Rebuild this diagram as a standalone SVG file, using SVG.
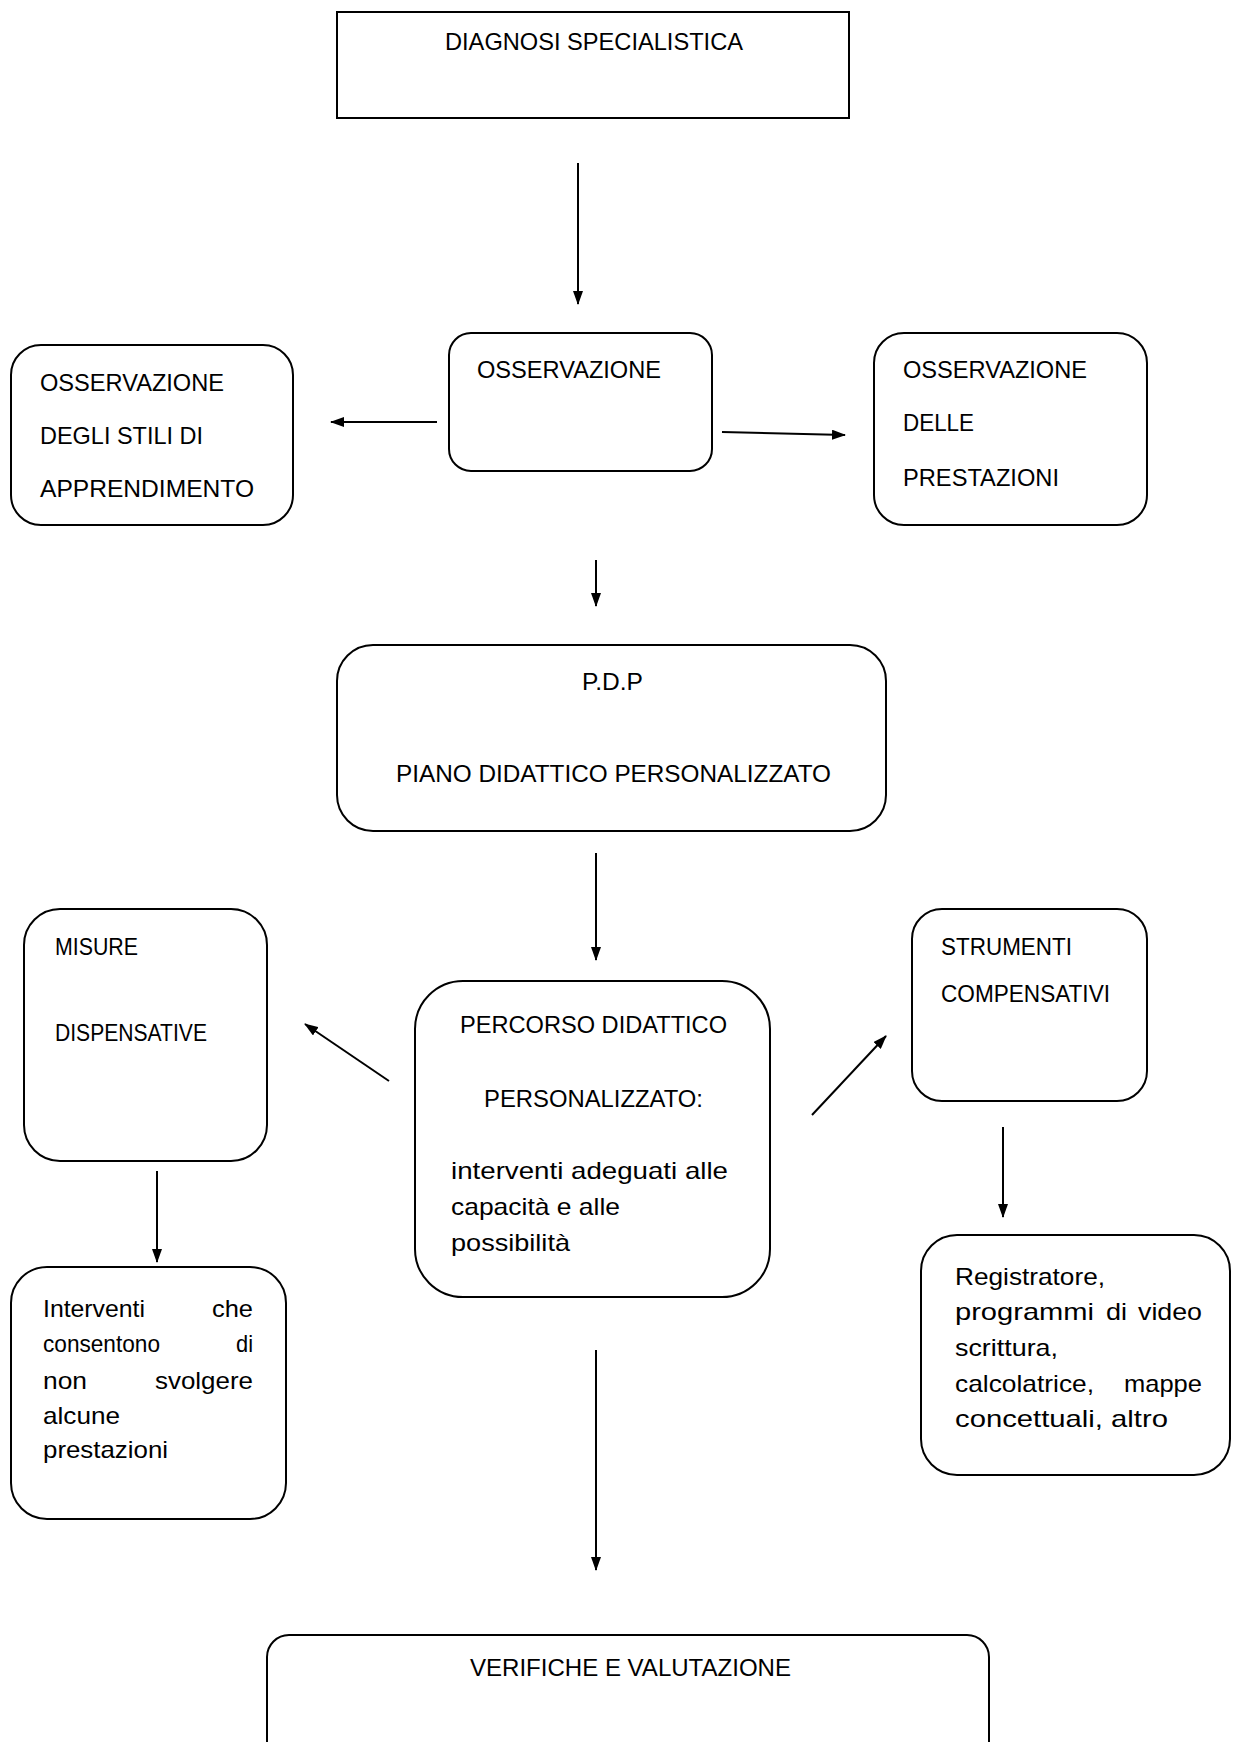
<svg xmlns="http://www.w3.org/2000/svg" width="1238" height="1742" viewBox="0 0 1238 1742">
<style>
.box{fill:#fff;stroke:#000;stroke-width:2}
.t{font-family:"Liberation Sans",Arial,sans-serif;font-size:24px;fill:#000}
.s{font-family:"Liberation Sans",Arial,sans-serif;font-size:23px;fill:#000}
.c{stroke:#000;stroke-width:2;fill:none}
</style>
<defs>
<marker id="ah" viewBox="0 0 14 10" refX="13" refY="5" markerWidth="14" markerHeight="10" markerUnits="userSpaceOnUse" orient="auto">
<path d="M0,0 L14,5 L0,10 Z" fill="#000"/>
</marker>
</defs>
<rect width="1238" height="1742" fill="#fff"/>

<g id="diagnosi">
<rect class="box" x="337" y="12" width="512" height="106"/>
<text class="t" x="445" y="50" textLength="298" lengthAdjust="spacingAndGlyphs">DIAGNOSI SPECIALISTICA</text>
</g>

<g id="osservazione">
<rect class="box" x="449" y="333" width="263" height="138" rx="22"/>
<text class="t" x="477" y="378" textLength="184" lengthAdjust="spacingAndGlyphs">OSSERVAZIONE</text>
</g>

<g id="stili">
<rect class="box" x="11" y="345" width="282" height="180" rx="30"/>
<text class="t" x="40" y="391" textLength="184" lengthAdjust="spacingAndGlyphs">OSSERVAZIONE</text>
<text class="t" x="40" y="444" textLength="163" lengthAdjust="spacingAndGlyphs">DEGLI STILI DI</text>
<text class="t" x="40" y="497" textLength="214" lengthAdjust="spacingAndGlyphs">APPRENDIMENTO</text>
</g>

<g id="prestazioni">
<rect class="box" x="874" y="333" width="273" height="192" rx="30"/>
<text class="t" x="903" y="378" textLength="184" lengthAdjust="spacingAndGlyphs">OSSERVAZIONE</text>
<text class="t" x="903" y="431" textLength="71" lengthAdjust="spacingAndGlyphs">DELLE</text>
<text class="t" x="903" y="486" textLength="156" lengthAdjust="spacingAndGlyphs">PRESTAZIONI</text>
</g>

<g id="pdp">
<rect class="box" x="337" y="645" width="549" height="186" rx="36"/>
<text class="t" x="582" y="690" textLength="61" lengthAdjust="spacingAndGlyphs">P.D.P</text>
<text class="t" x="396" y="782" textLength="435" lengthAdjust="spacingAndGlyphs">PIANO DIDATTICO PERSONALIZZATO</text>
</g>

<g id="percorso">
<rect class="box" x="415" y="981" width="355" height="316" rx="48"/>
<text class="t" x="460" y="1033" textLength="267" lengthAdjust="spacingAndGlyphs">PERCORSO DIDATTICO</text>
<text class="t" x="484" y="1107" textLength="219" lengthAdjust="spacingAndGlyphs">PERSONALIZZATO:</text>
<text class="t" x="451" y="1179" textLength="277" lengthAdjust="spacingAndGlyphs">interventi adeguati alle</text>
<text class="t" x="451" y="1215" textLength="169" lengthAdjust="spacingAndGlyphs">capacità e alle</text>
<text class="t" x="451" y="1251" textLength="119" lengthAdjust="spacingAndGlyphs">possibilità</text>
</g>

<g id="misure">
<rect class="box" x="24" y="909" width="243" height="252" rx="36"/>
<text class="s" x="55" y="955" textLength="83" lengthAdjust="spacingAndGlyphs">MISURE</text>
<text class="s" x="55" y="1041" textLength="152" lengthAdjust="spacingAndGlyphs">DISPENSATIVE</text>
</g>

<g id="strumenti">
<rect class="box" x="912" y="909" width="235" height="192" rx="30"/>
<text class="s" x="941" y="955" textLength="131" lengthAdjust="spacingAndGlyphs">STRUMENTI</text>
<text class="s" x="941" y="1002" textLength="169" lengthAdjust="spacingAndGlyphs">COMPENSATIVI</text>
</g>

<g id="interventi">
<rect class="box" x="11" y="1267" width="275" height="252" rx="36"/>
<text class="t" x="43" y="1317" textLength="102" lengthAdjust="spacingAndGlyphs">Interventi</text>
<text class="t" x="212" y="1317" textLength="41" lengthAdjust="spacingAndGlyphs">che</text>
<text class="t" x="43" y="1352" textLength="117" lengthAdjust="spacingAndGlyphs">consentono</text>
<text class="t" x="236" y="1352" textLength="17" lengthAdjust="spacingAndGlyphs">di</text>
<text class="t" x="43" y="1389" textLength="44" lengthAdjust="spacingAndGlyphs">non</text>
<text class="t" x="155" y="1389" textLength="98" lengthAdjust="spacingAndGlyphs">svolgere</text>
<text class="t" x="43" y="1424" textLength="77" lengthAdjust="spacingAndGlyphs">alcune</text>
<text class="t" x="43" y="1458" textLength="125" lengthAdjust="spacingAndGlyphs">prestazioni</text>
</g>

<g id="registratore">
<rect class="box" x="921" y="1235" width="309" height="240" rx="36"/>
<text class="t" x="955" y="1285" textLength="150" lengthAdjust="spacingAndGlyphs">Registratore,</text>
<text class="t" x="955" y="1320" textLength="139" lengthAdjust="spacingAndGlyphs">programmi</text>
<text class="t" x="1106" y="1320" textLength="21" lengthAdjust="spacingAndGlyphs">di</text>
<text class="t" x="1138" y="1320" textLength="64" lengthAdjust="spacingAndGlyphs">video</text>
<text class="t" x="955" y="1356" textLength="103" lengthAdjust="spacingAndGlyphs">scrittura,</text>
<text class="t" x="955" y="1392" textLength="139" lengthAdjust="spacingAndGlyphs">calcolatrice,</text>
<text class="t" x="1124" y="1392" textLength="78" lengthAdjust="spacingAndGlyphs">mappe</text>
<text class="t" x="955" y="1427" textLength="213" lengthAdjust="spacingAndGlyphs">concettuali, altro</text>
</g>

<g id="verifiche">
<rect class="box" x="267" y="1635" width="722" height="140" rx="22"/>
<text class="t" x="470" y="1676" textLength="321" lengthAdjust="spacingAndGlyphs">VERIFICHE E VALUTAZIONE</text>
</g>

<g id="connectors">
<line class="c" x1="578" y1="163" x2="578" y2="304" marker-end="url(#ah)"/>
<line class="c" x1="437" y1="422" x2="331" y2="422" marker-end="url(#ah)"/>
<line class="c" x1="722" y1="432" x2="845" y2="435" marker-end="url(#ah)"/>
<line class="c" x1="596" y1="560" x2="596" y2="606" marker-end="url(#ah)"/>
<line class="c" x1="596" y1="853" x2="596" y2="960" marker-end="url(#ah)"/>
<line class="c" x1="389" y1="1081" x2="305" y2="1024" marker-end="url(#ah)"/>
<line class="c" x1="812" y1="1115" x2="886" y2="1036" marker-end="url(#ah)"/>
<line class="c" x1="157" y1="1171" x2="157" y2="1262" marker-end="url(#ah)"/>
<line class="c" x1="1003" y1="1127" x2="1003" y2="1217" marker-end="url(#ah)"/>
<line class="c" x1="596" y1="1350" x2="596" y2="1570" marker-end="url(#ah)"/>
</g>
</svg>
